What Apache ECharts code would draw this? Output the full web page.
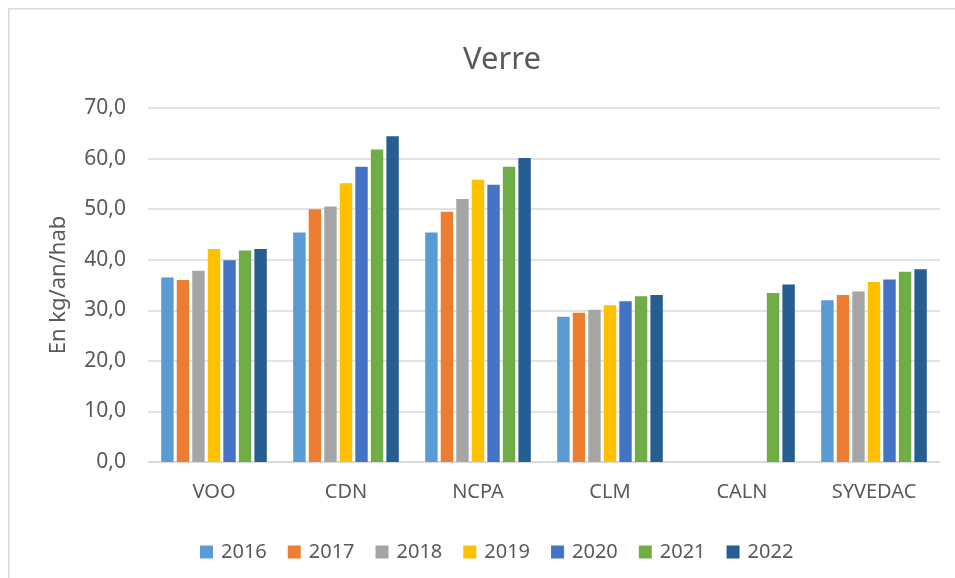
<!DOCTYPE html>
<html>
<head>
<meta charset="utf-8">
<script src="https://cdn.jsdelivr.net/npm/echarts@6/dist/echarts.min.js"></script>
<style>html,body{margin:0;padding:0;background:#fff}#c{width:955px;height:578px}</style>
</head>
<body>
<div id="c"></div>
<script>
const categories = ['VOO', 'CDN', 'NCPA', 'CLM', 'CALN', 'SYVEDAC'];
const years = ['2016', '2017', '2018', '2019', '2020', '2021', '2022'];
const v2016 = [36.5, 45.4, 45.4, 28.7, null, 32.0];
const v2017 = [36.0, 50.0, 49.5, 29.5, null, 33.0];
const v2018 = [37.8, 50.5, 52.0, 30.1, null, 33.7];
const v2019 = [42.1, 55.1, 55.8, 31.0, null, 35.6];
const v2020 = [39.9, 58.4, 54.8, 31.8, null, 36.1];
const v2021 = [41.8, 61.8, 58.4, 32.8, 33.4, 37.6];
const v2022 = [42.1, 64.4, 60.1, 33.0, 35.1, 38.1];
const yTicks = [0, 10, 20, 30, 40, 50, 60, 70];
const colors = ['#5b9bd5', '#ed7d31', '#a5a5a5', '#ffc000', '#4472c4', '#70ad47', '#255e91'];
const seriesValues = [v2016, v2017, v2018, v2019, v2020, v2021, v2022];

const FONT = 'Noto Sans';
const chart = echarts.init(document.getElementById('c'), null, {renderer: 'canvas'});
chart.setOption({
  animation: false,
  color: colors,
  textStyle: {fontFamily: FONT, color: '#595959'},
  graphic: [{
    type: 'rect', left: 8, top: 8, z: -10,
    shape: {width: 980, height: 600},
    style: {fill: '#fff', stroke: '#d9d9d9', lineWidth: 1.5}
  }],
  title: {
    text: 'Verre', left: 497, top: 40, textAlign: 'center',
    textStyle: {fontFamily: FONT, fontSize: 31, fontWeight: 'normal', color: '#595959'}
  },
  legend: {
    data: years, top: 537, left: 195,
    itemWidth: 13, itemHeight: 13, itemGap: 21, icon: 'rect',
    textStyle: {fontFamily: FONT, fontSize: 20, color: '#595959', padding: [0, 0, 0, 3]}
  },
  grid: {left: 148, right: 15, top: 108, bottom: 116, containLabel: false},
  xAxis: {
    type: 'category', data: categories,
    axisLine: {lineStyle: {color: '#d9d9d9', width: 1.5}},
    axisTick: {show: false},
    axisLabel: {fontFamily: FONT, fontSize: 20, color: '#595959', margin: 20}
  },
  yAxis: {
    type: 'value', min: yTicks[0], max: yTicks[yTicks.length - 1], interval: 10,
    name: 'En kg/an/hab', nameLocation: 'middle', nameGap: 78, nameRotate: 90,
    nameTextStyle: {fontFamily: FONT, fontSize: 22, color: '#595959'},
    axisLine: {show: false}, axisTick: {show: false},
    splitLine: {lineStyle: {color: '#d9d9d9', width: 1.5}},
    axisLabel: {fontFamily: FONT, fontSize: 21, color: '#595959', margin: 22,
      formatter: v => v.toFixed(1).replace('.', ',')}
  },
  series: years.map((y, i) => ({
    name: y, type: 'bar', data: seriesValues[i],
    barGap: '25%', barCategoryGap: '20%',
    itemStyle: {color: colors[i]}
  }))
});
</script>
</body>
</html>
